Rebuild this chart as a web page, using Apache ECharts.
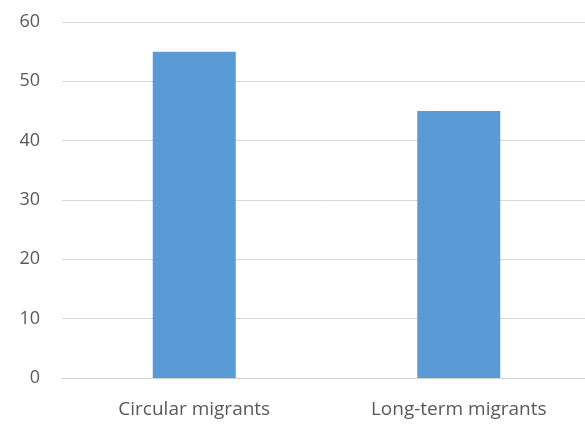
<!DOCTYPE html>
<html><head><meta charset="utf-8">
<script src="https://cdn.jsdelivr.net/npm/echarts@6/dist/echarts.min.js"></script>
<style>html,body{margin:0;padding:0;background:#fff;overflow:hidden}#c{width:591px;height:428px}</style>
</head><body><div id="c"></div>
<script>
const categories = ["Circular migrants", "Long-term migrants"];
const values = [55, 45];
const yTicks = [0, 10, 20, 30, 40, 50, 60];

const chart = echarts.init(document.getElementById('c'), null, {renderer: 'canvas'});
chart.setOption({
  animation: false,
  grid: {left: 62, right: 0, top: 22, bottom: 50, containLabel: false},
  xAxis: {
    type: 'category', data: categories,
    axisLine: {lineStyle: {color: '#d0d0d0', width: 1}},
    axisTick: {show: false},
    axisLabel: {color: '#595959', fontSize: 19, fontFamily: 'Open Sans', margin: 22}
  },
  yAxis: {
    type: 'value', min: yTicks[0], max: yTicks[yTicks.length-1], interval: 10,
    axisLine: {show: false}, axisTick: {show: false},
    splitLine: {lineStyle: {color: '#d9d9d9', width: 1}},
    axisLabel: {color: '#595959', fontSize: 18, fontFamily: 'Open Sans', margin: 22}
  },
  series: [{
    type: 'bar', data: values, barWidth: 83,
    itemStyle: {color: '#5b9bd5'}
  }]
});
</script></body></html>
